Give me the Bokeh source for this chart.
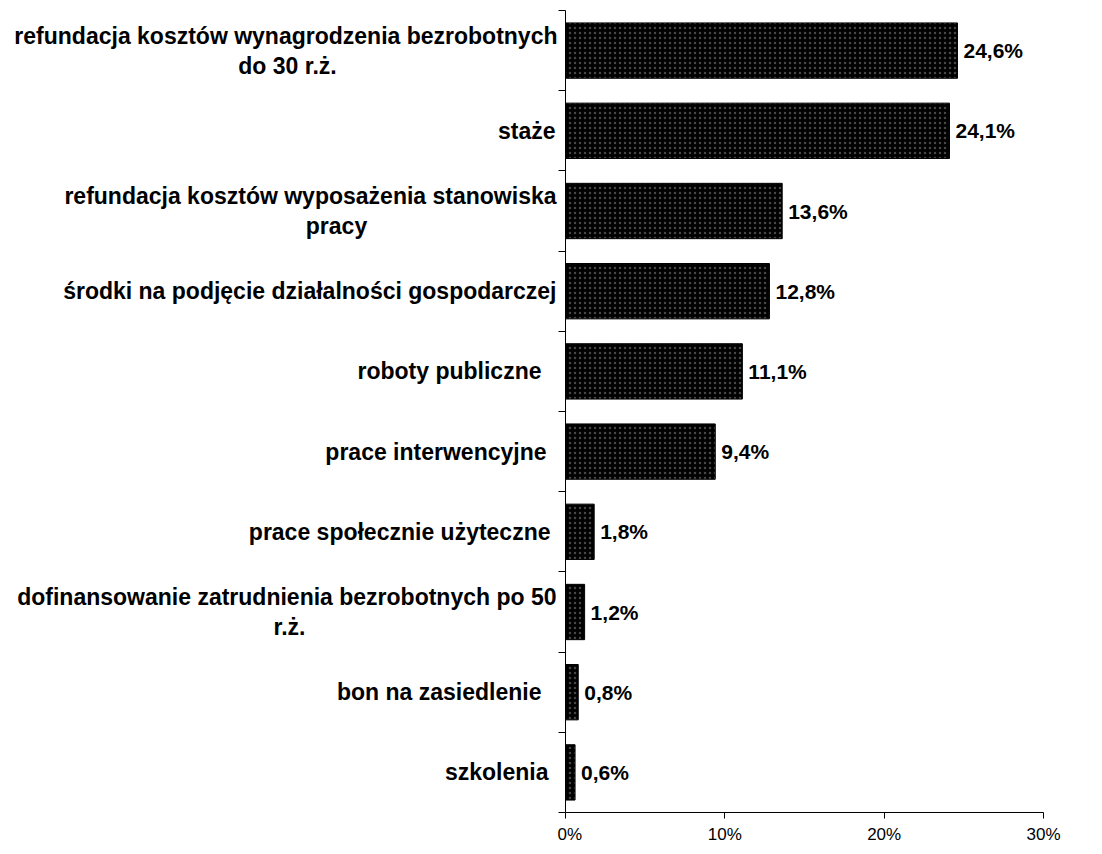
from bokeh.plotting import figure
from bokeh.layouts import row
from bokeh.models import (Range1d, FixedTicker, PrintfTickFormatter, CustomJSTickFormatter,
                          ColumnDataSource)
from bokeh.core.properties import value
from bokeh.embed import file_html
from bokeh.resources import INLINE

# ---- data ----
label_line1 = [
    "refundacja kosztów wynagrodzenia bezrobotnych",
    "staże",
    "refundacja kosztów wyposażenia stanowiska",
    "środki na podjęcie działalności gospodarczej",
    "roboty publiczne",
    "prace interwencyjne",
    "prace społecznie użyteczne",
    "dofinansowanie zatrudnienia bezrobotnych po 50",
    "bon na zasiedlenie",
    "szkolenia",
]
label_line2 = ["do 30 r.ż.", "", "pracy", "", "", "", "", "r.ż.", "", ""]
values = [24.6, 24.1, 13.6, 12.8, 11.1, 9.4, 1.8, 1.2, 0.8, 0.6]
x_ticks = [0, 10, 20, 30]

# ---- layout styles ----
FONT = "Liberation Sans"
LEFT_W = 557          # width of the label panel (px)
H = 846
TOP, BOTTOM = 10, 34
two_line_shift = 15
line1_right = [557, 555, 556, 556, 541, 546, 550, 556, 541, 548]
line2_center = [287, 0, 336, 0, 0, 0, 0, 289, 0, 0]

n = len(values)
pos = list(range(1, n + 1))
has2 = [bool(s) for s in label_line2]
yr = Range1d(n + 0.5, 0.5)

src = ColumnDataSource(dict(
    y=pos,
    v=values,
    vlab=[f"{v:.1f}".replace(".", ",") + "%" for v in values],
))

# ---------- label panel ----------
lab = figure(width=LEFT_W, height=H, output_backend="svg", toolbar_location=None,
             x_range=Range1d(0, LEFT_W), y_range=yr,
             x_axis_type=None, y_axis_type=None,
             min_border_left=0, min_border_right=0, min_border_top=TOP, min_border_bottom=BOTTOM)
lab.outline_line_color = None
lab.xgrid.visible = False
lab.ygrid.visible = False

s1 = ColumnDataSource(dict(
    x=line1_right, y=pos, t=label_line1,
    yo=[-two_line_shift if h else 0 for h in has2],
))
lab.text(x="x", y="y", text="t", source=s1, y_offset="yo",
         text_align="right", text_baseline="middle",
         text_font=value(FONT), text_font_style="bold", text_font_size="23px", text_color="black")
s2 = ColumnDataSource(dict(
    x=[c for c, h in zip(line2_center, has2) if h],
    y=[p_ for p_, h in zip(pos, has2) if h],
    t=[s for s in label_line2 if s],
))
lab.text(x="x", y="y", text="t", source=s2, y_offset=two_line_shift,
         text_align="center", text_baseline="middle",
         text_font=value(FONT), text_font_style="bold", text_font_size="23px", text_color="black")

# ---------- bar chart ----------
p = figure(width=1094 - LEFT_W, height=H, output_backend="svg", toolbar_location=None,
           x_range=Range1d(0, 30), y_range=yr,
           min_border_left=8, min_border_right=51, min_border_top=TOP, min_border_bottom=BOTTOM)
p.outline_line_color = None
p.xgrid.visible = False
p.ygrid.visible = False

p.hbar(y="y", right="v", left=0, height=0.69, source=src,
       fill_color="black", line_color="black",
       hatch_pattern="dot", hatch_color="white", hatch_alpha=0.28, hatch_scale=5, hatch_weight=1)

p.text(x="v", y="y", text="vlab", source=src, x_offset=6,
       text_align="left", text_baseline="middle",
       text_font=value(FONT), text_font_style="bold", text_font_size="21px", text_color="black")

xa = p.xaxis[0]
xa.ticker = FixedTicker(ticks=x_ticks)
xa.formatter = PrintfTickFormatter(format="%d%%")
xa.major_tick_out = 6
xa.major_tick_in = 0
xa.minor_tick_line_color = None
xa.axis_line_color = "black"
xa.major_label_text_font = FONT
xa.major_label_text_font_size = "17px"
xa.major_label_text_color = "black"
xa.major_label_standoff = 6

ya = p.yaxis[0]
ya.ticker = FixedTicker(ticks=[i + 0.5 for i in range(n + 1)])
ya.formatter = CustomJSTickFormatter(code="return ''")
ya.major_tick_out = 7
ya.major_tick_in = 0
ya.major_label_standoff = 0
ya.minor_tick_line_color = None
ya.axis_line_color = "black"

layout = row(lab, p, spacing=0)
open("out.html", "w").write(file_html(layout, INLINE))
